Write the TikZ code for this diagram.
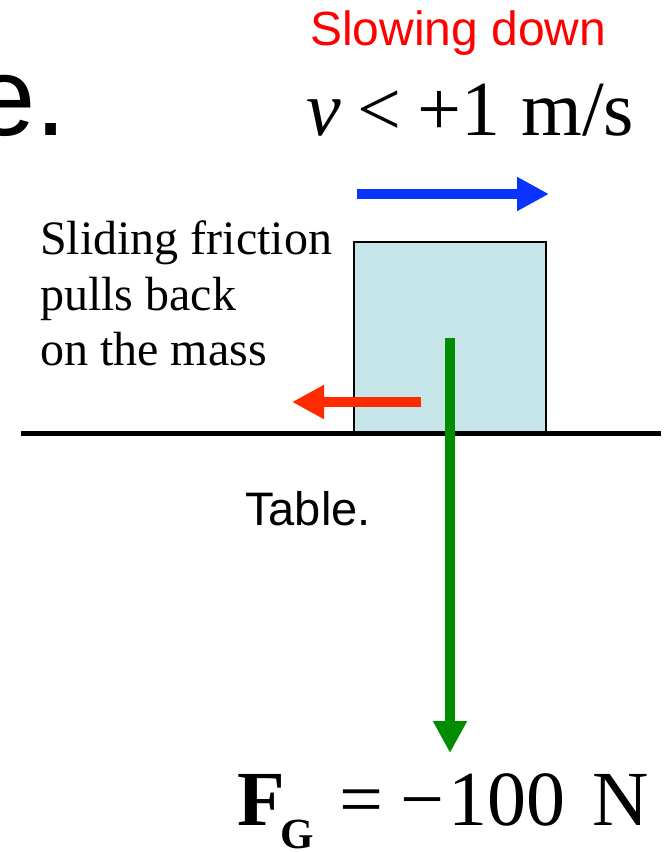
\documentclass[tikz,border=0pt]{standalone}
\usepackage{fontspec}
\setmainfont{Liberation Serif}
\newfontfamily\arialfont{Liberation Sans}
\usetikzlibrary{arrows.meta}
\definecolor{boxfill}{HTML}{C5E5E8}
\definecolor{velblue}{HTML}{0A33FF}
\definecolor{fricred}{HTML}{FF2B00}
\definecolor{gravgreen}{HTML}{008C00}
\definecolor{slowred}{HTML}{FF0000}
\tikzset{
  forcearrow/.style={line width=10.5pt,-{Triangle[length=32pt,width=32pt]}},
  masssty/.style={draw=black,line width=1.6pt,fill=boxfill,minimum width=192pt,minimum height=191pt,inner sep=0pt,outer sep=0pt},
  serifbig/.style={inner sep=0pt,font=\fontsize{78}{78}\selectfont},
  seriflabel/.style={inner sep=0pt,font=\fontsize{48}{55}\selectfont},
  sanslabel/.style={inner sep=0pt}
}
\begin{document}
\begin{tikzpicture}[x=1pt,y=-1pt]
\useasboundingbox (0,0) rectangle (667,852);
% partial title
\node[sanslabel,anchor=base east,font=\arialfont\fontsize{112}{112}\selectfont] (title) at (67,135) {e.};
% Slowing down
\node[sanslabel,anchor=base west,text=slowred,font=\arialfont\fontsize{48}{48}\selectfont] (slow) at (310,45) {Slowing down};
% velocity
\node[serifbig,anchor=base west] (vel) at (306,135) {\textit{v}\hspace{0.22em}<\hspace{0.2em}+1\hspace{0.02em} m/s};
% mass
\node[masssty] (mass) at (450,337.5) {};
% friction text
\node[seriflabel,anchor=base west] (fric1) at (40,254) {Sliding friction};
\node[seriflabel,anchor=base west] (fric2) at (40,310) {pulls back};
\node[seriflabel,anchor=base west] (fric3) at (40,365) {on the mass};
% table
\coordinate (tl) at (21,433);
\coordinate (tr) at (661,433);
\draw[line width=5pt] (tl) -- (tr);
\node[sanslabel,anchor=base west,font=\arialfont\fontsize{47}{47}\selectfont] (table) at (245,525) {Table.};
% velocity arrow
\coordinate (vs) at (357,194);
\coordinate (ve) at (549,194);
\draw[forcearrow,color=velblue] (vs) -- (ve);
% friction arrow
\coordinate (fs) at (421,402);
\coordinate (fe) at (292,402);
\draw[forcearrow,color=fricred] (fs) -- (fe);
% gravity arrow
\coordinate (ge) at (450,753);
\draw[forcearrow,color=gravgreen,line width=10pt] (mass.center) -- (ge);
% gravity label
\node[serifbig,anchor=base west] (fg) at (237,825) {\textbf{F}\hspace{-0.05em}\raisebox{-0.3em}{\fontsize{43}{43}\selectfont\textbf{G}}\hspace{0.32em}=\hspace{0.22em}\textminus\hspace{0.05em}100\hspace{0.1em} N};
\end{tikzpicture}
\end{document}
